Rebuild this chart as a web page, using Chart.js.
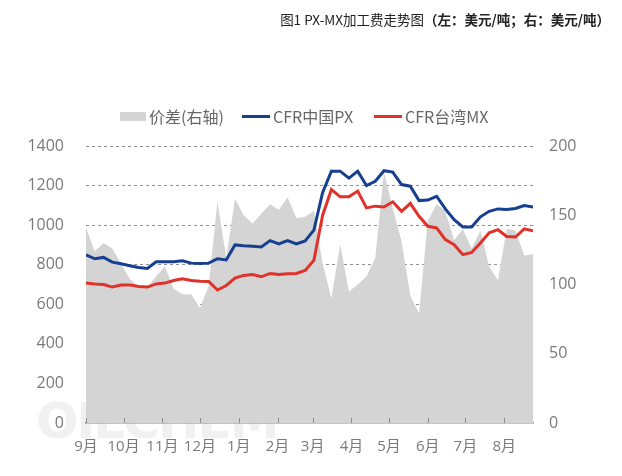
<!DOCTYPE html>
<html>
<head>
<meta charset="utf-8">
<script src="https://cdn.jsdelivr.net/npm/chart.js@4.4.0/dist/chart.umd.min.js"></script>
<style>
  html, body { margin: 0; padding: 0; background: #ffffff; }
  #wrap { position: relative; width: 622px; height: 476px; overflow: hidden; font-family: "Noto Sans CJK SC", sans-serif; }
  #chart { position: absolute; left: 0; top: 0; z-index: 2; }
  #title { position: absolute; right: 12px; top: 9px; font-size: 13.5px; color: #222; white-space: nowrap; line-height: 20px; z-index: 3; }
  #title b { font-weight: bold; }
  .lg { position: absolute; top: 104px; height: 24px; display: flex; align-items: center; font-size: 16px; color: #666; white-space: nowrap; z-index: 3; }
  .box { width: 26px; height: 9px; background: #d4d4d4; margin-right: 3px; }
  .ln { width: 28px; height: 3px; margin-right: 3px; }
  #wm { position: absolute; left: 36px; top: 392px; font-size: 50px; font-weight: bold; color: #f1f1f1; font-family: "DejaVu Sans", sans-serif; letter-spacing: -2px; z-index: 1; }
</style>
</head>
<body>
<div id="wrap">
  <div id="wm">OILCHEM</div>
  <canvas id="chart" width="622" height="476"></canvas>
  <div id="title">图1 PX-MX加工费走势图<b>（左：美元/吨；右：美元/吨）</b></div>
  <div class="lg" style="left:120px"><span class="box"></span><span id="lg0"></span></div>
  <div class="lg" style="left:242px"><span class="ln" style="background:#173f8f"></span><span id="lg1"></span></div>
  <div class="lg" style="left:374px"><span class="ln" style="background:#e0312a"></span><span id="lg2"></span></div>
</div>
<script>
// ---- data ----
const seriesNames = ['价差(右轴)', 'CFR中国PX', 'CFR台湾MX'];
const startDate = '2022-09-01';
const weekDates = [
  '2022-09-01','2022-09-08','2022-09-15','2022-09-22','2022-09-29',
  '2022-10-06','2022-10-13','2022-10-20','2022-10-27',
  '2022-11-03','2022-11-10','2022-11-17','2022-11-24',
  '2022-12-01','2022-12-08','2022-12-15','2022-12-22','2022-12-29',
  '2023-01-05','2023-01-12','2023-01-19','2023-01-26',
  '2023-02-02','2023-02-09','2023-02-16','2023-02-23',
  '2023-03-02','2023-03-09','2023-03-16','2023-03-23','2023-03-30',
  '2023-04-06','2023-04-13','2023-04-20','2023-04-27',
  '2023-05-04','2023-05-11','2023-05-18','2023-05-25',
  '2023-06-01','2023-06-08','2023-06-15','2023-06-22','2023-06-29',
  '2023-07-06','2023-07-13','2023-07-20','2023-07-27',
  '2023-08-03','2023-08-10','2023-08-17','2023-08-24'
];
const pxValues = [850,830,837,813,805,795,786,781,815,815,815,820,808,806,808,830,824,900,896,893,
  890,922,905,922,905,920,975,1165,1273,1273,1238,1273,1200,1222,1275,1268,1205,1197,1124,1127,
  1146,1082,1028,991,991,1042,1070,1082,1079,1084,1099,1091];
const mxValues = [707,703,700,687,697,698,690,687,703,707,720,729,720,717,715,672,695,732,746,750,
  739,756,750,754,756,771,822,1050,1180,1143,1143,1172,1087,1096,1092,1118,1070,1110,1045,994,
  986,927,901,851,862,910,961,977,943,940,981,971];
const spreadValues = [141,124,130,126,115,104,99,98,106,113,97,93,93,83,99,160,119,162,150,144,
  151,158,154,163,148,149,153,115,90,129,95,100,106,119,181,155,131,92,79,146,
  158,153,132,140,126,139,113,103,140,139,121,122];
const monthStarts = ['2022-09-01','2022-10-01','2022-11-01','2022-12-01','2023-01-01','2023-02-01',
  '2023-03-01','2023-04-01','2023-05-01','2023-06-01','2023-07-01','2023-08-01'];
const monthLabels = ['9月','10月','11月','12月','1月','2月','3月','4月','5月','6月','7月','8月'];
const leftTicks = [0, 1400, 200];   // min, max, step
const rightTicks = [0, 200, 50];

// ---- helpers ----
const DAY = 86400000;
const t0 = Date.parse(startDate);
const dayOf = d => Math.round((Date.parse(d) - t0) / DAY);
const xDays = weekDates.map(dayOf);
const monthDays = monthStarts.map(dayOf);
const pts = vals => vals.map((v, i) => ({ x: xDays[i], y: v }));

document.getElementById('lg0').textContent = seriesNames[0];
document.getElementById('lg1').textContent = seriesNames[1];
document.getElementById('lg2').textContent = seriesNames[2];

const tickColor = '#7a7a7a';
const fontFam = "'Open Sans', 'Noto Sans CJK SC', sans-serif";

const innerTicks = {
  id: 'innerTicks',
  afterDatasetsDraw(chart) {
    const xs = chart.scales.x;
    const ctx = chart.ctx;
    const bottom = chart.chartArea.bottom;
    ctx.save();
    ctx.strokeStyle = '#8c8c8c';
    ctx.lineWidth = 1;
    xs.ticks.forEach(t => {
      const px = Math.round(xs.getPixelForValue(t.value)) + 0.5;
      ctx.beginPath();
      ctx.moveTo(px, bottom);
      ctx.lineTo(px, bottom - 5);
      ctx.stroke();
    });
    ctx.restore();
  }
};

new Chart(document.getElementById('chart'), {
  type: 'line',
  data: {
    datasets: [
      { label: seriesNames[1], data: pts(pxValues), yAxisID: 'y', borderColor: '#173f8f', borderWidth: 3,
        pointRadius: 0, tension: 0, fill: false, order: 1 },
      { label: seriesNames[2], data: pts(mxValues), yAxisID: 'y', borderColor: '#e0312a', borderWidth: 3,
        pointRadius: 0, tension: 0, fill: false, order: 2 },
      { label: seriesNames[0], data: pts(spreadValues), yAxisID: 'y1', borderColor: '#d4d4d4', borderWidth: 0,
        backgroundColor: '#d4d4d4', pointRadius: 0, tension: 0, fill: 'origin', order: 3 }
    ]
  },
  options: {
    responsive: false,
    animation: false,
    devicePixelRatio: 1,
    layout: { padding: { top: 146, left: 0, right: 0, bottom: 0 } },
    plugins: { legend: { display: false }, tooltip: { enabled: false }, title: { display: false } },
    scales: {
      x: {
        type: 'linear',
        min: xDays[0],
        max: xDays[xDays.length - 1],
        afterBuildTicks: s => { s.ticks = monthDays.map(v => ({ value: v })); },
        afterFit: s => { s.height = 476 - 423; },
        grid: { display: false, drawTicks: false },
        border: { display: true, color: '#8c8c8c', width: 1.5 },
        ticks: {
          autoSkip: false, maxRotation: 0, padding: 15, color: tickColor,
          font: { family: fontFam, size: 15 },
          callback: v => monthLabels[monthDays.indexOf(v)]
        }
      },
      y: {
        position: 'left',
        min: leftTicks[0], max: leftTicks[1],
        afterFit: s => { s.width = 86; },
        grid: {
          drawTicks: false,
          color: c => (c.tick && c.tick.value === 0) ? 'rgba(0,0,0,0)' : '#8f8f8f',
          lineWidth: 1
        },
        border: { display: false, dash: [3, 3] },
        ticks: { stepSize: leftTicks[2], padding: 22, color: tickColor, font: { family: fontFam, size: 16 },
          callback: v => String(v) }
      },
      y1: {
        position: 'right',
        min: rightTicks[0], max: rightTicks[1],
        afterFit: s => { s.width = 622 - 533; },
        grid: { display: false, drawTicks: false },
        border: { display: false },
        ticks: { stepSize: rightTicks[2], padding: 16, color: tickColor, font: { family: fontFam, size: 16 },
          callback: v => String(v) }
      }
    }
  },
  plugins: [innerTicks]
});
</script>
</body>
</html>
